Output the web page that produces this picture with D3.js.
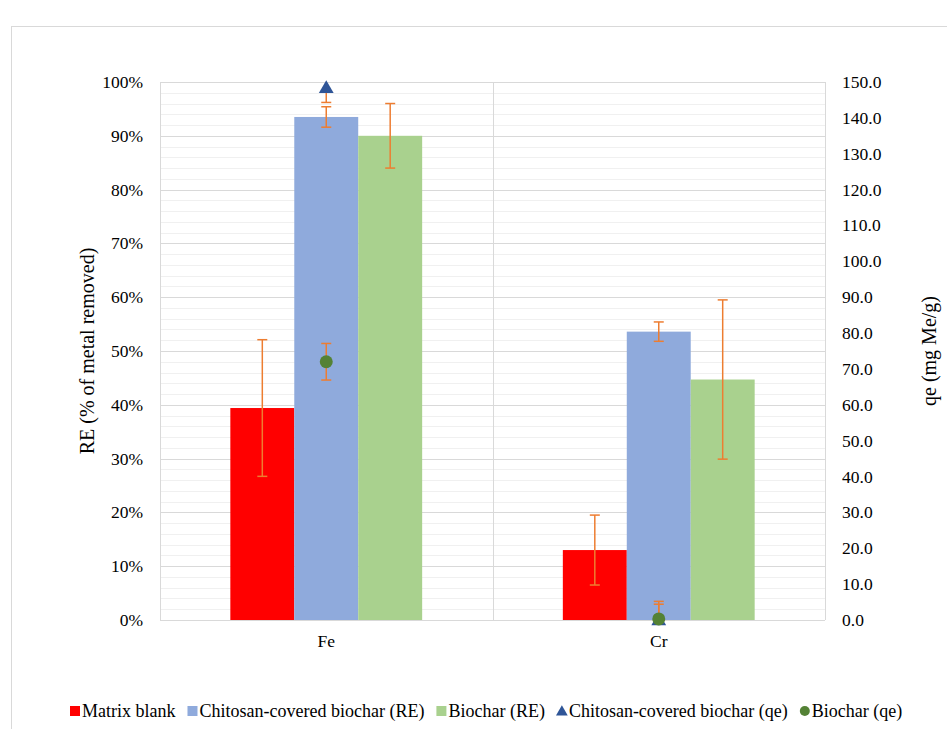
<!DOCTYPE html>
<html>
<head>
<meta charset="utf-8">
<script src="https://cdn.jsdelivr.net/npm/d3@7"></script>
<style>
  html, body { margin: 0; padding: 0; background: #fff; }
  svg { display: block; }
  svg text { font-family: "Liberation Serif", "Times New Roman", "DejaVu Serif", serif; }
</style>
</head>
<body>
<svg id="chart" width="947" height="729"></svg>
<script>
// ---- data ----
const categories = ["Fe", "Cr"];
const seriesNames = ["Matrix blank", "Chitosan-covered biochar (RE)", "Biochar (RE)", "Chitosan-covered biochar (qe)", "Biochar (qe)"];
const matrixBlank = [39.4, 13.0];
const matrixBlankErr = [12.7, 6.5];
const chitosanRE = [93.5, 53.6];
const chitosanREErr = [1.9, 1.8];
const biocharRE = [90.0, 44.7];
const biocharREErr = [6.0, 14.8];
const chitosanQe = [148.4, 0.0];
const chitosanQeErr = [4.1, 5.2];
const biocharQe = [72.0, 0.3];
const biocharQeErr = [5.1, 4.1];
const leftTicks = [0, 10, 20, 30, 40, 50, 60, 70, 80, 90, 100];
const rightTicks = [0, 10, 20, 30, 40, 50, 60, 70, 80, 90, 100, 110, 120, 130, 140, 150];

const colors = { red: "#FF0000", blue: "#8FAADC", green: "#A9D18E", tri: "#2F5597", dot: "#548235", err: "#ED7D31" };

const svg = d3.select("#chart");
const L = 160, R = 825, T = 82, B = 620;
const FONT = "'Liberation Serif', 'Times New Roman', 'DejaVu Serif', serif";

// outer chart border
svg.append("rect").attr("x", 11.5).attr("y", 26.5).attr("width", 960).attr("height", 720)
  .attr("fill", "#fff").attr("stroke", "#d9d9d9").attr("stroke-width", 1);

const x = d3.scaleBand().domain(categories).range([L, R]).padding(0);
const bars = [
  { name: seriesNames[0], vals: matrixBlank, err: matrixBlankErr, color: colors.red },
  { name: seriesNames[1], vals: chitosanRE, err: chitosanREErr, color: colors.blue },
  { name: seriesNames[2], vals: biocharRE, err: biocharREErr, color: colors.green }
];
const xs = d3.scaleBand().domain(bars.map(d => d.name)).range([0, x.bandwidth()]).paddingInner(0).paddingOuter(1.1);
const yL = d3.scaleLinear().domain([0, 100]).range([B, T]);
const yR = d3.scaleLinear().domain([0, 150]).range([B, T]);

// clip
svg.append("clipPath").attr("id", "plotclip").append("rect")
  .attr("x", L - 20).attr("y", T).attr("width", R - L + 40).attr("height", B - T);

// minor grid
const minor = d3.range(0, 101, 2).filter(v => v % 10 !== 0);
svg.append("g").selectAll("line").data(minor).join("line")
  .attr("x1", L).attr("x2", R).attr("y1", d => Math.round(yL(d)) + 0.5).attr("y2", d => Math.round(yL(d)) + 0.5)
  .attr("stroke", "#f0f0f0").attr("stroke-width", 1);
// major grid
svg.append("g").selectAll("line").data(leftTicks).join("line")
  .attr("x1", L).attr("x2", R).attr("y1", d => Math.round(yL(d)) + 0.5).attr("y2", d => Math.round(yL(d)) + 0.5)
  .attr("stroke", "#d9d9d9").attr("stroke-width", 1);
// vertical lines: left, divider, right
const vlines = [L, x("Cr"), R];
svg.append("g").selectAll("line").data(vlines).join("line")
  .attr("x1", d => Math.round(d) + 0.5).attr("x2", d => Math.round(d) + 0.5).attr("y1", T).attr("y2", B)
  .attr("stroke", "#d9d9d9").attr("stroke-width", 1);

// bars
bars.forEach(s => {
  svg.append("g").selectAll("rect").data(categories).join("rect")
    .attr("x", (c) => x(c) + xs(s.name))
    .attr("width", xs.bandwidth())
    .attr("y", (c, i) => yL(s.vals[i]))
    .attr("height", (c, i) => B - yL(s.vals[i]))
    .attr("fill", s.color);
});

function errBars(g, cx, cy0, cy1, clip) {
  const gg = g.append("g");
  if (clip) gg.attr("clip-path", "url(#plotclip)");
  gg.append("line").attr("x1", cx).attr("x2", cx).attr("y1", cy0).attr("y2", cy1)
    .attr("stroke", colors.err).attr("stroke-width", 1.5);
  [cy0, cy1].forEach(yy => {
    gg.append("line").attr("x1", cx - 5).attr("x2", cx + 5).attr("y1", yy).attr("y2", yy)
      .attr("stroke", colors.err).attr("stroke-width", 1.5);
  });
}

// bar error bars
const errG = svg.append("g");
bars.forEach(s => {
  categories.forEach((c, i) => {
    const cx = x(c) + xs(s.name) + xs.bandwidth() / 2;
    errBars(errG, cx, yL(s.vals[i] + s.err[i]), yL(s.vals[i] - s.err[i]), true);
  });
});

// triangle series (qe)
const triG = svg.append("g");
categories.forEach((c, i) => {
  const cx = x(c) + x.bandwidth() / 2;
  errBars(triG, cx, yR(chitosanQe[i] + chitosanQeErr[i]), yR(chitosanQe[i] - chitosanQeErr[i]), true);
});
triG.selectAll("path").data(categories).join("path")
  .attr("d", d3.symbol(d3.symbolTriangle, 95))
  .attr("transform", (c, i) => `translate(${x(c) + x.bandwidth() / 2},${yR(chitosanQe[i]) + 1})`)
  .attr("fill", colors.tri);

// circle series (qe)
const dotG = svg.append("g");
categories.forEach((c, i) => {
  const cx = x(c) + x.bandwidth() / 2;
  errBars(dotG, cx, yR(biocharQe[i] + biocharQeErr[i]), yR(biocharQe[i] - biocharQeErr[i]), true);
});
dotG.selectAll("circle").data(categories).join("circle")
  .attr("cx", c => x(c) + x.bandwidth() / 2)
  .attr("cy", (c, i) => yR(biocharQe[i]))
  .attr("r", 6.5)
  .attr("fill", colors.dot);

// left tick labels
svg.append("g").selectAll("text").data(leftTicks).join("text")
  .attr("x", 143).attr("y", d => yL(d) + 6)
  .attr("text-anchor", "end").style("font-size", "17.5px").style("font-family", FONT)
  .text(d => d + "%");
// right tick labels
svg.append("g").selectAll("text").data(rightTicks).join("text")
  .attr("x", 842).attr("y", d => yR(d) + 6)
  .attr("text-anchor", "start").style("font-size", "17.5px").style("font-family", FONT)
  .text(d => d3.format(".1f")(d));
// category labels
svg.append("g").selectAll("text").data(categories).join("text")
  .attr("x", c => x(c) + x.bandwidth() / 2).attr("y", 647)
  .attr("text-anchor", "middle").style("font-size", "17.5px").style("font-family", FONT)
  .text(c => c);

// axis titles
svg.append("text").attr("transform", `translate(94,${(T + B) / 2}) rotate(-90)`)
  .attr("text-anchor", "middle").style("font-size", "20px").style("font-family", FONT)
  .text("RE (% of metal removed)");
svg.append("text").attr("transform", `translate(936,${(T + B) / 2}) rotate(-90)`)
  .attr("text-anchor", "middle").style("font-size", "20px").style("font-family", FONT)
  .text("qe (mg Me/g)");

// legend
const legend = svg.append("g");
const legY = 711;
let lx = 70;
const legItems = [
  { name: seriesNames[0], type: "rect", color: colors.red },
  { name: seriesNames[1], type: "rect", color: colors.blue },
  { name: seriesNames[2], type: "rect", color: colors.green },
  { name: seriesNames[3], type: "tri", color: colors.tri },
  { name: seriesNames[4], type: "dot", color: colors.dot }
];
legItems.forEach(it => {
  if (it.type === "rect") {
    legend.append("rect").attr("x", lx).attr("y", legY - 5).attr("width", 10).attr("height", 10).attr("fill", it.color);
  } else if (it.type === "tri") {
    legend.append("path").attr("d", d3.symbol(d3.symbolTriangle, 60)).attr("transform", `translate(${lx + 5},${legY + 1})`).attr("fill", it.color);
  } else {
    legend.append("circle").attr("cx", lx + 5).attr("cy", legY).attr("r", 5).attr("fill", it.color);
  }
  const t = legend.append("text").attr("x", lx + 12).attr("y", legY + 6)
    .style("font-size", "18px").style("font-family", FONT).text(it.name);
  lx = lx + 12 + t.node().getComputedTextLength() + 12;
});
</script>
</body>
</html>
